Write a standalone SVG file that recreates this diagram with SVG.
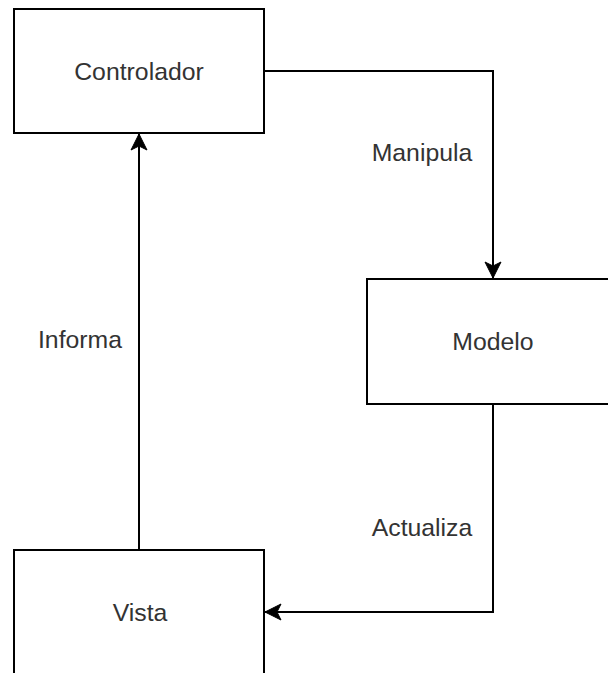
<svg xmlns="http://www.w3.org/2000/svg" width="608" height="673" viewBox="0 0 608 673">
<style>
.box{fill:#fff;stroke:#000;stroke-width:2}
.lbl{font-family:"Liberation Sans",Arial,sans-serif;font-size:24.8px;fill:#333;text-anchor:middle}
.edge{fill:none;stroke:#000;stroke-width:2;marker-end:url(#arr)}
</style>
<defs>
<marker id="arr" markerUnits="userSpaceOnUse" markerWidth="22" markerHeight="20" viewBox="-20 -10 22 20" refX="0" refY="0" orient="auto" overflow="visible">
<path d="M0,0 L-16,-8 L-12,0 L-16,8 Z" fill="#000" stroke="#000" stroke-width="1"/>
</marker>
</defs>
<rect width="608" height="673" fill="#fff"/>
<g id="connectors">
<path class="edge" d="M264 71 H493 V278"/>
<path class="edge" d="M493 404 V612 H265"/>
<path class="edge" d="M139 550 V134"/>
<text class="lbl" x="422" y="161">Manipula</text>
<text class="lbl" x="422" y="536">Actualiza</text>
<text class="lbl" x="80" y="348">Informa</text>
</g>
<g id="controlador">
<rect class="box" x="14" y="9" width="250" height="124"/>
<text class="lbl" x="139" y="80">Controlador</text>
</g>
<g id="modelo">
<rect class="box" x="367" y="279" width="252" height="125"/>
<text class="lbl" x="493" y="350">Modelo</text>
</g>
<g id="vista">
<rect class="box" x="14" y="550" width="250" height="124"/>
<text class="lbl" x="140" y="621">Vista</text>
</g>
</svg>
